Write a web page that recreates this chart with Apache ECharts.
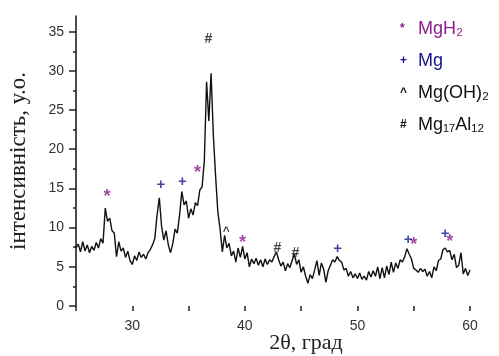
<!DOCTYPE html>
<html>
<head>
<meta charset="utf-8">
<script src="https://cdn.jsdelivr.net/npm/echarts@6/dist/echarts.min.js"></script>
<style>
  html, body { margin: 0; padding: 0; background: #fff; }
  #chart { width: 499px; height: 356px; }
</style>
</head>
<body>
<div id="chart"></div>
<script>
// XRD pattern, 2θ from 25° to 60° sampled every 0.2°
const twoThetaStart = 25;
const twoThetaStep = 0.2;
const intensity = [
  7.4, 7.9, 6.9, 8.2, 7.0, 7.8, 6.8, 7.6, 7.1, 8.1,      // 25.0 – 26.8
  7.4, 8.6, 8.0, 12.5, 10.8, 11.2, 9.6, 9.3, 6.3, 8.2,   // 27.0 – 28.8
  7.0, 7.4, 6.2, 7.0, 5.8, 5.3, 6.4, 5.8, 6.9, 6.2,      // 29.0 – 30.8
  6.6, 6.0, 6.8, 7.2, 7.8, 8.6, 11.6, 13.8, 10.2, 8.4,   // 31.0 – 32.8
  9.6, 7.8, 6.8, 8.0, 9.8, 9.3, 11.6, 14.6, 12.9, 13.4,  // 33.0 – 34.8
  11.2, 12.4, 11.6, 13.2, 12.8, 14.8, 15.2, 18.5, 28.6, 23.6, // 35.0 – 36.8
  29.7, 21.8, 16.6, 12.0, 9.8, 6.9, 9.0, 7.4, 8.0, 6.4,  // 37.0 – 38.8
  7.0, 5.6, 7.4, 6.2, 7.6, 6.0, 6.8, 5.0, 6.0, 5.4,      // 39.0 – 40.8
  6.1, 5.2, 5.9, 5.0, 6.0, 5.3, 5.9, 5.6, 6.3, 6.9,      // 41.0 – 42.8
  5.9, 5.1, 5.6, 4.5, 5.4, 4.9, 5.8, 6.6, 5.3, 5.9,      // 43.0 – 44.8
  4.3, 5.0, 3.8, 2.9, 4.0, 3.5, 4.6, 5.8, 3.9, 5.5,      // 45.0 – 46.8
  4.7, 3.0, 4.5, 5.2, 5.9, 5.6, 6.3, 5.8, 5.6, 4.6,      // 47.0 – 48.8
  4.8, 3.8, 4.4, 3.6, 4.1, 3.5, 4.2, 3.4, 3.8, 3.3,      // 49.0 – 50.8
  4.4, 3.7, 4.5, 3.8, 5.0, 3.5, 4.9, 3.6, 5.1, 4.0,      // 51.0 – 52.8
  5.6, 4.3, 5.5, 4.8, 5.9, 5.6, 6.3, 7.3, 6.6, 6.0,      // 53.0 – 54.8
  4.8, 4.6, 4.3, 4.8, 4.4, 4.7, 3.8, 4.4, 3.6, 5.0,      // 55.0 – 56.8
  4.5, 5.8, 6.0, 7.2, 7.4, 6.9, 7.1, 5.9, 6.6, 4.9,      // 57.0 – 58.8
  5.2, 6.8, 4.1, 4.8, 3.9, 4.6                            // 59.0 – 60.0
];

// Phase reflections: [2θ, height of the marker]
const mgh2Peaks     = [[27.75, 14.4], [35.8, 17.5], [39.8, 8.6], [55.0, 8.3], [58.2, 8.7]];
const mgPeaks       = [[32.55, 15.5], [34.45, 15.8], [48.25, 7.3], [54.5, 8.5], [57.8, 9.2]];
const mgOHPeaks     = [[38.35, 9.7]];
const mg17al12Peaks = [[36.75, 34.0], [42.9, 7.4], [44.5, 6.8]];

const xTicks = [30, 40, 50, 60];
const yTicks = [0, 5, 10, 15, 20, 25, 30, 35];
const yMinorTicks = [2.5, 7.5, 12.5, 17.5, 22.5, 27.5, 32.5];

const purple = '#8a1c8e';
const blue = '#14148c';
const ink = '#111';
const sans = 'Liberation Sans, Arial, sans-serif';
const serif = 'Liberation Serif, Times New Roman, serif';

const pattern = intensity.map((v, i) => [+(twoThetaStart + i * twoThetaStep).toFixed(1), v]);

function markerSeries(name, data, glyph, color, size, dy) {
  return {
    name: name,
    type: 'scatter',
    data: data,
    symbol: 'circle',
    symbolSize: 1,
    itemStyle: { color: 'transparent' },
    silent: true,
    z: 5,
    label: {
      show: true,
      position: 'inside',
      formatter: glyph,
      color: color,
      fontSize: size,
      fontWeight: 'bold',
      fontFamily: sans,
      offset: [0, dy]
    }
  };
}

const chart = echarts.init(document.getElementById('chart'), null, { renderer: 'canvas' });
chart.setOption({
  animation: false,
  backgroundColor: '#fff',
  grid: { left: 76, right: 29, top: 16, bottom: 50, containLabel: false, outerBoundsMode: 'none' },
  legend: {
    orient: 'vertical',
    left: 390,
    top: 15,
    itemGap: 14,
    itemWidth: 0,
    itemHeight: 0,
    icon: 'circle',
    selectedMode: false,
    textStyle: {
      fontFamily: sans,
      fontSize: 18,
      rich: {
        g: { fontSize: 12, fontWeight: 'bold', width: 18, fontFamily: sans }
      }
    },
    data: [
      { name: 'MgH₂', textStyle: { color: purple } },
      { name: 'Mg', textStyle: { color: blue } },
      { name: 'Mg(OH)₂', textStyle: { color: ink } },
      { name: 'Mg₁₇Al₁₂', textStyle: { color: ink } }
    ],
    formatter: function (name) {
      const g = { 'MgH₂': '*', 'Mg': '+', 'Mg(OH)₂': '^', 'Mg₁₇Al₁₂': '#' }[name];
      return '{g|' + g + '}' + name;
    }
  },
  xAxis: {
    type: 'value',
    min: 25,
    max: 60,
    interval: 5,
    name: '2θ, град',
    nameLocation: 'middle',
    nameGap: 26,
    nameMoveOverlap: false,
    nameTextStyle: { fontFamily: serif, fontSize: 22, color: '#222', padding: [0, 0, 0, 66] },
    axisLine: { show: false },
    axisTick: { show: true, length: 5, lineStyle: { color: '#222', width: 1.5 } },
    axisLabel: {
      margin: 13,
      color: '#333',
      fontSize: 14,
      fontFamily: sans,
      formatter: v => (xTicks.indexOf(v) >= 0 ? String(v) : '')
    },
    splitLine: { show: false }
  },
  yAxis: [
    {
      type: 'value',
      min: 0,
      max: 37,
      name: 'інтенсивність, у.о.',
      nameLocation: 'middle',
      nameGap: 46,
      nameRotate: 90,
      nameMoveOverlap: false,
      nameTextStyle: { fontFamily: serif, fontSize: 23, color: '#222' },
      axisLine: { show: true, lineStyle: { color: '#111', width: 1.5 } },
      axisTick: { show: true, length: 7, customValues: yTicks, lineStyle: { color: '#222', width: 1.5 } },
      axisLabel: {
        margin: 12,
        color: '#333',
        fontSize: 14,
        fontFamily: sans,
        customValues: yTicks
      },
      splitLine: { show: false }
    },
    {
      type: 'value',
      min: 0,
      max: 37,
      position: 'left',
      axisLine: { show: false },
      axisTick: { show: true, length: 3, customValues: yMinorTicks, lineStyle: { color: '#222', width: 1.5 } },
      axisLabel: { show: false },
      splitLine: { show: false }
    }
  ],
  series: [
    {
      name: 'pattern',
      type: 'line',
      data: pattern,
      showSymbol: false,
      silent: true,
      lineStyle: { color: ink, width: 1.4 },
      z: 3
    },
    markerSeries('MgH₂', mgh2Peaks, '*', purple, 18, 4),
    markerSeries('Mg', mgPeaks, '+', blue, 15, 0),
    markerSeries('Mg(OH)₂', mgOHPeaks, '^', ink, 12, 2),
    markerSeries('Mg₁₇Al₁₂', mg17al12Peaks, '#', ink, 14, 0)
  ]
});
</script>
</body>
</html>
